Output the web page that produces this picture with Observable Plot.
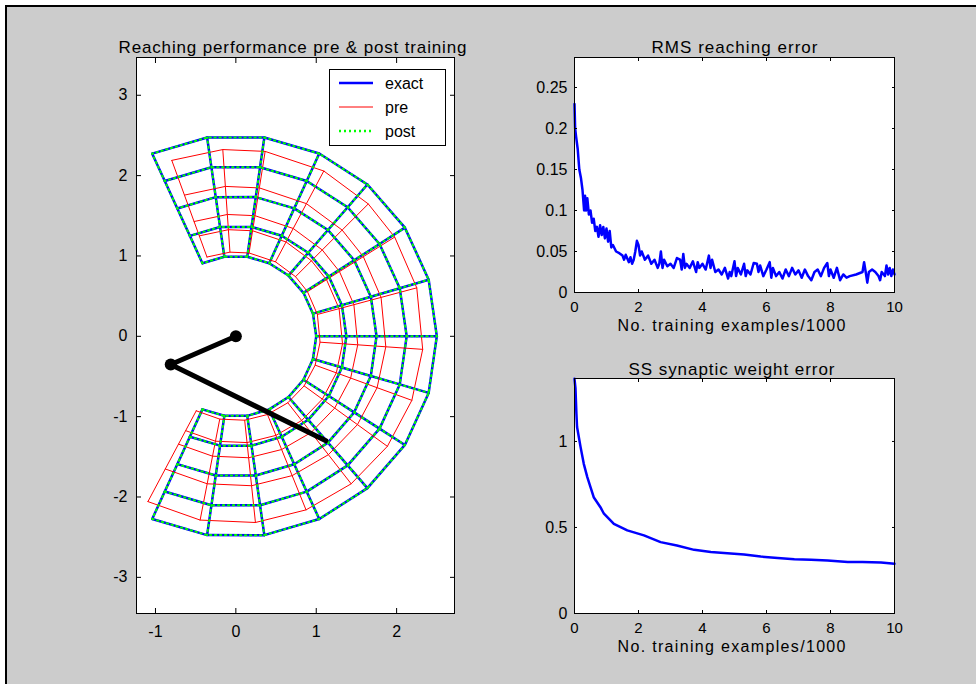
<!DOCTYPE html>
<html><head><meta charset="utf-8">
<script src="https://cdn.jsdelivr.net/npm/d3@7"></script>
<script src="https://cdn.jsdelivr.net/npm/@observablehq/plot@0.6"></script>
<style>
body{margin:0;background:#fff;}
#page{position:relative;width:976px;height:684px;overflow:hidden;}
#bg{position:absolute;left:5px;top:5px;right:0;bottom:0;background:#cccccc;border-top:2px solid #000;border-left:2px solid #000;}
.layer{position:absolute;left:0;top:0;}
#legend{position:absolute;left:329px;top:69px;width:115px;height:75px;background:#fff;border:1px solid #000;font-family:"Liberation Sans",Arial,sans-serif;font-size:16px;}
</style></head><body><div id="page"><div id="bg"></div></div>
<script>
// ---------- data ----------
// exact / post-training grid of hand targets (radii, angles in radians)
const gridRadii = [1, 1.375, 1.75, 2.125, 2.5];
const gridAngles = [-2, -1.7143, -1.4286, -1.1429, -0.8571, -0.5714, -0.2857, 0, 0.2857, 0.5714, 0.8571, 1.1429, 1.4286, 1.7143, 2];
// pre-training (distorted) grid: radii, angles in degrees
const preRadii = [1.05, 1.33, 1.52, 1.87, 2.33];
const preAnglesDeg = [-118, -101, -84, -68, -52, -36, -20, -4, 15, 32, 45, 62, 81, 94, 110];
// arm: shoulder, elbow, hand
const armX = [0, -0.81, 1.12];
const armY = [0, -0.35, -1.3];
// RMS reaching error
const rmsX = [0,0.02,0.05,0.1,0.15,0.2,0.25,0.3,0.33,0.36,0.4,0.45,0.5,0.55,0.6,0.65,0.7,0.75,0.8,0.85,0.9,0.95,1.0,1.05,1.1,1.15,1.2,1.3,1.4,1.5,1.55,1.6,1.7,1.75,1.8,1.85,1.9,1.95,2.0,2.05,2.1,2.2,2.3,2.4,2.5,2.6,2.65,2.7,2.75,2.8,2.9,3.0,3.1,3.2,3.3,3.35,3.4,3.45,3.5,3.6,3.7,3.8,3.85,3.9,4.0,4.1,4.2,4.25,4.3,4.4,4.5,4.6,4.7,4.8,4.85,4.9,5.0,5.05,5.1,5.2,5.3,5.35,5.4,5.5,5.6,5.7,5.75,5.8,5.9,6.0,6.1,6.15,6.2,6.3,6.4,6.5,6.6,6.7,6.8,6.9,7.0,7.1,7.2,7.3,7.4,7.5,7.6,7.7,7.8,7.9,7.95,8.0,8.1,8.2,8.3,8.4,8.5,8.6,8.8,9.0,9.05,9.1,9.15,9.2,9.3,9.4,9.5,9.55,9.6,9.7,9.75,9.8,9.85,9.9,9.95,10];
const rmsY = [0.23,0.20,0.19,0.175,0.15,0.14,0.125,0.10,0.118,0.10,0.115,0.095,0.10,0.085,0.09,0.075,0.08,0.068,0.082,0.07,0.08,0.066,0.078,0.062,0.075,0.055,0.058,0.05,0.048,0.045,0.04,0.046,0.037,0.043,0.035,0.04,0.05,0.063,0.058,0.045,0.05,0.04,0.045,0.035,0.04,0.03,0.035,0.05,0.03,0.04,0.032,0.035,0.03,0.042,0.04,0.028,0.047,0.03,0.035,0.03,0.038,0.025,0.037,0.03,0.035,0.028,0.045,0.03,0.04,0.025,0.028,0.022,0.03,0.017,0.025,0.02,0.038,0.02,0.03,0.022,0.035,0.02,0.027,0.022,0.036,0.035,0.025,0.033,0.02,0.028,0.037,0.018,0.03,0.02,0.025,0.017,0.028,0.02,0.03,0.022,0.027,0.018,0.028,0.02,0.015,0.025,0.028,0.02,0.03,0.036,0.02,0.028,0.018,0.03,0.015,0.022,0.018,0.02,0.022,0.025,0.037,0.025,0.012,0.025,0.028,0.025,0.02,0.015,0.025,0.02,0.033,0.022,0.03,0.02,0.028,0.022];
// SS synaptic weight error
const ssX = [0,0.03,0.06,0.08,0.19,0.29,0.4,0.5,0.6,0.81,0.92,1.23,1.65,2.17,2.69,3.2,3.74,4.26,4.78,5.3,5.82,6.35,6.87,7.39,7.91,8.54,9.0,9.58,10];
const ssY = [1.364,1.31,1.161,1.084,0.967,0.87,0.793,0.735,0.676,0.618,0.58,0.521,0.483,0.454,0.415,0.395,0.37,0.357,0.35,0.343,0.331,0.323,0.316,0.312,0.308,0.3,0.3,0.297,0.289];
// ticks
const reachTicksX = [-1, 0, 1, 2];
const reachTicksY = [-3, -2, -1, 0, 1, 2, 3];
const trainTicksX = [0, 2, 4, 6, 8, 10];
const rmsTicksY = [0, 0.05, 0.1, 0.15, 0.2, 0.25];
const ssTicksY = [0, 0.5, 1];
const legendEntries = [
  {label: "exact", color: "#0000ff", dash: null, width: 2.5},
  {label: "pre", color: "#ff0000", dash: null, width: 1},
  {label: "post", color: "#00ff00", dash: "2,3", width: 2.5}
];
const titleLeft = "Reaching performance pre & post training";
const titleRms = "RMS reaching error";
const titleSs = "SS synaptic weight error";
const xLabel = "No. training examples/1000";

// ---------- helpers ----------
function gridRows(radii, angles, toRad) {
  const rows = [];
  radii.forEach((r, i) => angles.forEach((a, j) => rows.push({line: "r" + i, x: r * Math.cos(a * toRad), y: r * Math.sin(a * toRad)})));
  angles.forEach((a, j) => radii.forEach((r, i) => rows.push({line: "a" + j, x: r * Math.cos(a * toRad), y: r * Math.sin(a * toRad)})));
  return rows;
}
const exactRows = gridRows(gridRadii, gridAngles, 1);
const postRows = gridRows(gridRadii, gridAngles, 1);
const preRows = gridRows(preRadii, preAnglesDeg, Math.PI / 180);
const arm = armX.map((x, i) => ({x, y: armY[i]}));
const rms = rmsX.map((x, i) => ({x, y: rmsY[i]}));
const ss = ssX.map((x, i) => ({x, y: ssY[i]}));

const style = {fontFamily: "Liberation Sans, Arial, sans-serif", fontSize: "16px", background: "transparent", color: "black", overflow: "visible"};
const fmt = d => String(d);
function axes(tx, ty, ts, padX, padY, fsX) {
  return [
    Plot.axisX({anchor: "bottom", ticks: tx, tickSize: -ts, tickPadding: padX + ts, tickFormat: fmt, label: null, fontSize: fsX}),
    Plot.axisX({anchor: "top", ticks: tx, tickSize: -ts, tickFormat: () => "", label: null}),
    Plot.axisY({anchor: "left", ticks: ty, tickSize: -ts, tickPadding: padY + ts, tickFormat: fmt, label: null}),
    Plot.axisY({anchor: "right", ticks: ty, tickSize: -ts, tickFormat: () => "", label: null})
  ];
}
const page = document.getElementById("page");
function add(svg, widths) {
  svg.classList.add("layer");
  svg.querySelectorAll("text").forEach(t => {
    const w = widths[t.textContent];
    if (w) { t.setAttribute("textLength", w); t.setAttribute("lengthAdjust", "spacing"); }
  });
  page.appendChild(svg);
}

// ---------- left: reaching performance ----------
add(Plot.plot({
  width: 976, height: 684,
  marginLeft: 136, marginRight: 522, marginTop: 57, marginBottom: 71,
  x: {domain: [-1.236, 2.72]},
  y: {domain: [-3.45, 3.47]},
  style,
  marks: [
    Plot.frame({fill: "white"}),
    Plot.line(exactRows, {x: "x", y: "y", z: "line", stroke: "#0000ff", strokeWidth: 2.5}),
    Plot.line(preRows, {x: "x", y: "y", z: "line", stroke: "#ff0000", strokeWidth: 1}),
    Plot.line(postRows, {x: "x", y: "y", z: "line", stroke: "#00ff00", strokeWidth: 2, strokeDasharray: "1.5,3.5"}),
    Plot.line(arm, {x: "x", y: "y", stroke: "black", strokeWidth: 5}),
    Plot.dot(arm.slice(0, 2), {x: "x", y: "y", r: 6, fill: "black"}),
    Plot.frame({stroke: "black"}),
    ...axes(reachTicksX, reachTicksY, 5, 12, 9, 16),
    Plot.text([titleLeft], {frameAnchor: "top", lineAnchor: "bottom", dy: -5, dx: -3, fontSize: 17})
  ]
}), {[titleLeft]: 348});

// ---------- right top: RMS ----------
add(Plot.plot({
  width: 976, height: 684,
  marginLeft: 574, marginRight: 82, marginTop: 57, marginBottom: 392,
  x: {domain: [0, 10]},
  y: {domain: [0, 0.2866]},
  style,
  marks: [
    Plot.frame({fill: "white"}),
    Plot.line(rms, {x: "x", y: "y", stroke: "#0000ff", strokeWidth: 2.5}),
    Plot.frame({stroke: "black"}),
    ...axes(trainTicksX, rmsTicksY, 3, 9, 7, 15),
    Plot.text([titleRms], {frameAnchor: "top", lineAnchor: "bottom", dy: -5, fontSize: 17}),
    Plot.text([xLabel], {frameAnchor: "bottom", lineAnchor: "top", dy: 27, dx: -3, fontSize: 16})
  ]
}), {[titleRms]: 166, [xLabel]: 228});

// ---------- right bottom: SS ----------
add(Plot.plot({
  width: 976, height: 684,
  marginLeft: 574, marginRight: 82, marginTop: 378, marginBottom: 71,
  x: {domain: [0, 10]},
  y: {domain: [0, 1.366]},
  style,
  marks: [
    Plot.frame({fill: "white"}),
    Plot.line(ss, {x: "x", y: "y", stroke: "#0000ff", strokeWidth: 2.5}),
    Plot.frame({stroke: "black"}),
    ...axes(trainTicksX, ssTicksY, 3, 9, 7, 15),
    Plot.text([titleSs], {frameAnchor: "top", lineAnchor: "bottom", dy: -4, dx: -3, fontSize: 17}),
    Plot.text([xLabel], {frameAnchor: "bottom", lineAnchor: "top", dy: 27, dx: -3, fontSize: 16})
  ]
}), {[titleSs]: 206, [xLabel]: 228});

// ---------- legend ----------
const leg = document.createElement("div");
leg.id = "legend";
const ns = "http://www.w3.org/2000/svg";
const lsvg = document.createElementNS(ns, "svg");
lsvg.setAttribute("width", 115); lsvg.setAttribute("height", 75);
legendEntries.forEach((e, i) => {
  const cy = 13 + i * 24;
  const ln = document.createElementNS(ns, "line");
  ln.setAttribute("x1", 9); ln.setAttribute("x2", 43); ln.setAttribute("y1", cy); ln.setAttribute("y2", cy);
  ln.setAttribute("stroke", e.color); ln.setAttribute("stroke-width", e.width);
  if (e.dash) ln.setAttribute("stroke-dasharray", e.dash);
  lsvg.appendChild(ln);
  const tx = document.createElementNS(ns, "text");
  tx.setAttribute("x", 55); tx.setAttribute("y", cy + 6);
  tx.setAttribute("font-family", "Liberation Sans, Arial, sans-serif"); tx.setAttribute("font-size", 16);
  tx.textContent = e.label;
  lsvg.appendChild(tx);
});
leg.appendChild(lsvg);
page.appendChild(leg);
</script></body></html>
